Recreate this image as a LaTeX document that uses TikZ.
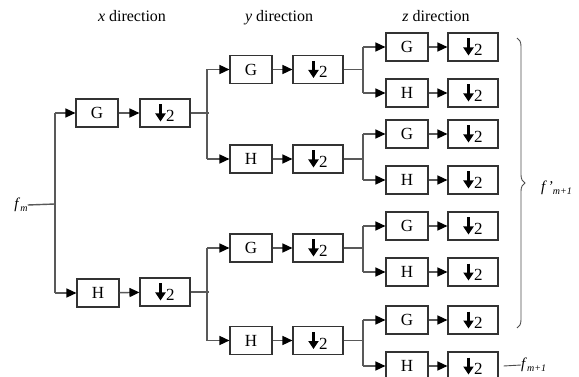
\documentclass[tikz,border=0pt]{standalone}
\usepackage{fontspec}
\setmainfont{Liberation Serif}
\usetikzlibrary{arrows.meta,decorations.pathreplacing}

% thick down-arrow followed by the factor 2 (downsampling)
\newcommand{\dsamp}{\tikz[baseline=0pt]\draw[line width=2.6pt,black,-{Triangle[length=8pt,width=10pt]}] (0pt,17pt)--(0pt,0pt);\kern0.5pt 2}
\newcommand{\lowsub}[1]{\raisebox{-3pt}{\fontsize{10}{10}\selectfont\textit{#1}}}

\tikzset{
  blk/.style={draw=black!80, line width=1.1pt, minimum height=28pt, inner sep=0pt,
              font=\fontsize{17}{17}\selectfont},
  gbox/.style={blk, minimum width=42pt},
  dbox/.style={blk, minimum width=50pt},
  conn/.style={draw=black!65, line width=1.4pt},
  arr/.style={conn, -{Triangle[length=10pt,width=9pt,color=black]}},
  ttl/.style={font=\fontsize{16}{16}\selectfont, inner sep=0pt},
  lbl/.style={font=\fontsize{15}{15}\selectfont, inner sep=0pt},
  brc/.style={draw=black!70, line width=0.9pt, decorate, decoration={brace, amplitude=8pt}}
}

\begin{document}
\begin{tikzpicture}[x=1pt,y=-1pt]
\useasboundingbox (0,0) rectangle (579,377);
\clip (0,0) rectangle (579,377);

% column titles
\node[ttl] (tx) at (132,16) {\textit{x} direction};
\node[ttl] (ty) at (279,18) {\textit{y} direction};
\node[ttl] (tz) at (436,16) {\textit{z} direction};

% input signal
\node[lbl] (fm) at (21,205) {\textit{f}\lowsub{m}};
\coordinate (s0) at (55,204);
\coordinate (s0t) at (55,113);
\coordinate (s0b) at (55,293);
\draw[conn] (fm.east) -- (s0);
\draw[conn] (s0t) -- (s0b);

% x direction
\node[gbox] (xg) at (97,113) {G};
\node[dbox] (xgd) at (165,113) {\dsamp};
\node[gbox] (xh) at (98,293) {H};
\node[dbox] (xhd) at (165,292) {\dsamp};
\draw[arr] (s0t) -- (xg.west);
\draw[arr] (s0b) -- (xh.west);
\draw[arr] (xg) -- (xgd);
\draw[arr] (xh) -- (xhd);

% y direction
\foreach \n/\t/\yy in {a/G/69.5, b/H/159, c/G/248, d/H/340.5}{
  \node[gbox] (y\n) at (251,\yy) {\t};
  \node[dbox] (y\n d) at (318,\yy) {\dsamp};
  \draw[arr] (y\n) -- (y\n d);
}
\foreach \src/\up/\dn in {xgd/a/b, xhd/c/d}{
  \coordinate (j\src) at ([xshift=18pt]\src.east);
  \coordinate (j\src t) at (207,0 |- y\up.west);
  \coordinate (j\src b) at (207,0 |- y\dn.west);
  \draw[conn] (\src.east) -- (j\src);
  \draw[conn] (j\src t) -- (j\src b);
  \draw[arr] (j\src t) -- (y\up.west);
  \draw[arr] (j\src b) -- (y\dn.west);
}

% z direction
\foreach \n/\t/\yy in {1/G/47, 2/H/93, 3/G/134, 4/H/180, 5/G/226, 6/H/272, 7/G/320, 8/H/366}{
  \node[gbox] (z\n) at (407,\yy) {\t};
  \node[dbox] (z\n d) at (473,\yy) {\dsamp};
  \draw[arr] (z\n) -- (z\n d);
}
\foreach \src/\up/\dn in {yad/1/2, ybd/3/4, ycd/5/6, ydd/7/8}{
  \coordinate (k\src) at ([xshift=20pt]\src.east);
  \coordinate (k\src t) at (363,0 |- z\up.west);
  \coordinate (k\src b) at (363,0 |- z\dn.west);
  \draw[conn] (\src.east) -- (k\src);
  \draw[conn] (k\src t) -- (k\src b);
  \draw[arr] (k\src t) -- (z\up.west);
  \draw[arr] (k\src b) -- (z\dn.west);
}

% outputs
\coordinate (bt) at (517,38);
\coordinate (bb) at (517,328);
\draw[brc] (bt) -- (bb);
\node[lbl, anchor=west] (fp) at (541,188) {\textit{f\,’}\lowsub{m+1}};
\node[lbl, anchor=west] (fo) at (521,365) {\textit{f}\lowsub{m+1}};
\coordinate (q1) at ([xshift=5pt]z8d.east);
\draw[draw=black!70, line width=0.9pt] (q1) -- (fo.west);
\end{tikzpicture}
\end{document}
